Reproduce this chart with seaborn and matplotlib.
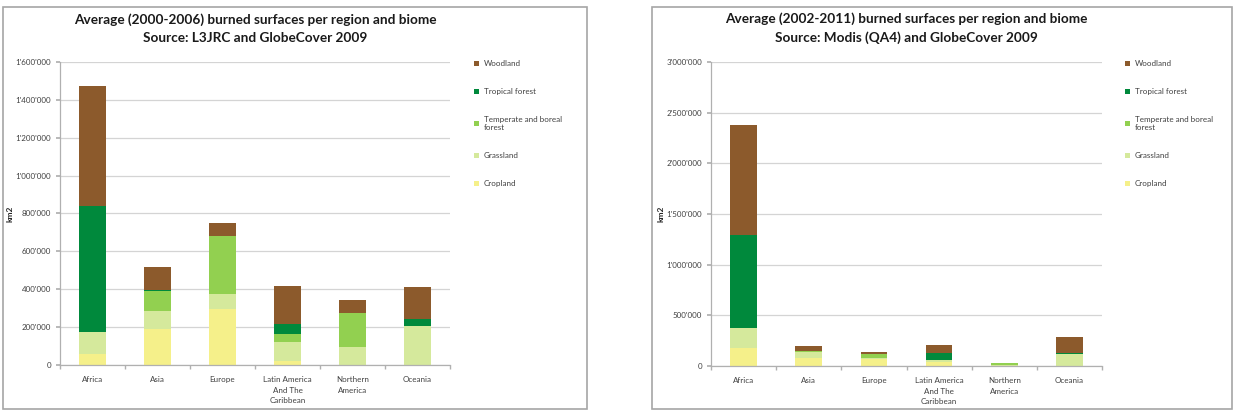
import matplotlib
matplotlib.use("Agg")

import pandas as pd
import seaborn as sns
import matplotlib.pyplot as plt
import matplotlib.ticker as ticker
from matplotlib.patches import Rectangle, Patch

sns.set_theme(style="white")
plt.rcParams['font.family'] = ['Lato', 'DejaVu Sans']

# ===============================
# data (km2)
# ===============================
regions = ["Africa", "Asia", "Europe", "Latin America\nAnd The\nCaribbean",
           "Northern\nAmerica", "Oceania"]
biomes = ["Cropland", "Grassland", "Temperate and boreal\nforest",
          "Tropical forest", "Woodland"]
biome_colors = ["#f5f08a", "#d5e99c", "#92d050", "#00893c", "#8c5a2c"]

# L3JRC, 2000-2006
l3_cropland = [56000, 188000, 296000, 23000, 0, 0]
l3_grassland = [117000, 97000, 81000, 100000, 97000, 204000]
l3_temperate = [0, 107000, 304000, 39000, 179000, 0]
l3_tropical = [665000, 5000, 0, 54000, 0, 39000]
l3_woodland = [635000, 118000, 67000, 199000, 69000, 169000]

# Modis (QA4), 2002-2011
md_cropland = [181000, 82000, 72000, 43000, 3000, 0]
md_grassland = [197000, 56000, 10000, 14000, 5000, 116000]
md_temperate = [0, 10000, 33000, 7000, 20000, 0]
md_tropical = [916000, 0, 0, 64000, 0, 12000]
md_woodland = [1084000, 50000, 20000, 80000, 2000, 162000]

left_title = "Average (2000-2006) burned surfaces per region and biome\nSource: L3JRC and GlobeCover 2009"
right_title = "Average (2002-2011) burned surfaces per region and biome\nSource: Modis (QA4) and GlobeCover 2009"


def apostrophe(x, pos):
    return f"{int(round(x)):,}".replace(",", "'")


def draw_panel(ax, layers, ymax, step, title, legend_xy):
    # cumulative tops, drawn from the full stack down so lower layers sit on top
    df = pd.DataFrame(dict(zip(biomes, layers)), index=regions)
    tops = df.cumsum(axis=1)
    for biome, color in reversed(list(zip(biomes, biome_colors))):
        sub = pd.DataFrame({'region': regions, 'top': tops[biome].values})
        sns.barplot(data=sub, x='region', y='top', order=regions, color=color,
                    saturation=1, width=0.41, ax=ax, errorbar=None,
                    linewidth=0, edgecolor='none')

    ax.set_xlim(-0.5, 5.5)
    ax.set_ylim(0, ymax)
    ax.set_yticks(range(0, ymax + 1, step))
    ax.yaxis.set_major_formatter(ticker.FuncFormatter(apostrophe))
    ax.grid(True, axis='y', color='#d4d4d4', linewidth=0.9)
    ax.set_axisbelow(True)
    for s in ['top', 'right']:
        ax.spines[s].set_visible(False)
    for s in ['left', 'bottom']:
        ax.spines[s].set_color('#b0b0b0')
        ax.spines[s].set_linewidth(0.9)

    ax.set_xticks([i - 0.5 for i in range(7)], minor=True)
    ax.tick_params(axis='x', which='major', length=0, labelsize=5.8,
                   labelcolor='#404040', pad=8)
    ax.tick_params(axis='x', which='minor', length=3, color='#b0b0b0',
                   direction='out', bottom=True)
    ax.tick_params(axis='y', length=3, color='#b0b0b0', direction='out', left=True,
                   labelsize=5.8, labelcolor='#404040')
    for lab in ax.get_xticklabels():
        lab.set_linespacing(1.6)

    ax.set_xlabel('')
    ax.set_ylabel('km2', fontsize=6, fontweight='bold', labelpad=1)

    ax.text(0.5, 1.06, title, transform=ax.transAxes, ha='center', va='bottom',
            fontsize=9.8, fontweight='bold', linespacing=1.6, color='#1a1a1a')

    handles = [Patch(facecolor=c, edgecolor='none') for c in reversed(biome_colors)]
    fig.legend(handles, list(reversed(biomes)), loc='upper left',
               bbox_to_anchor=legend_xy, frameon=False, fontsize=5.8,
               handlelength=0.6, handleheight=0.6, handletextpad=0.6,
               labelspacing=2.6, borderpad=0, borderaxespad=0,
               labelcolor='#404040')


# ===============================
# figure
# ===============================
fig = plt.figure(figsize=(12.35, 4.19), dpi=100)
W, H = 1235, 419

for x0, x1 in [(3, 587), (652, 1232)]:
    fig.patches.append(Rectangle((x0 / W, 1 - 409 / H), (x1 - x0) / W, 402 / H,
                                 transform=fig.transFigure, fill=False,
                                 edgecolor='#a6a6a6', linewidth=1.2))

ax1 = fig.add_axes([60 / W, 1 - 365 / H, 390 / W, 303 / H])
ax2 = fig.add_axes([711 / W, 1 - 366 / H, 391 / W, 304 / H])

draw_panel(ax1, [l3_cropland, l3_grassland, l3_temperate, l3_tropical, l3_woodland],
           1600000, 200000, left_title, (474 / W, 1 - 60 / H))
draw_panel(ax2, [md_cropland, md_grassland, md_temperate, md_tropical, md_woodland],
           3000000, 500000, right_title, (1125 / W, 1 - 60 / H))

plt.savefig('out.png', dpi=100)
plt.close()
